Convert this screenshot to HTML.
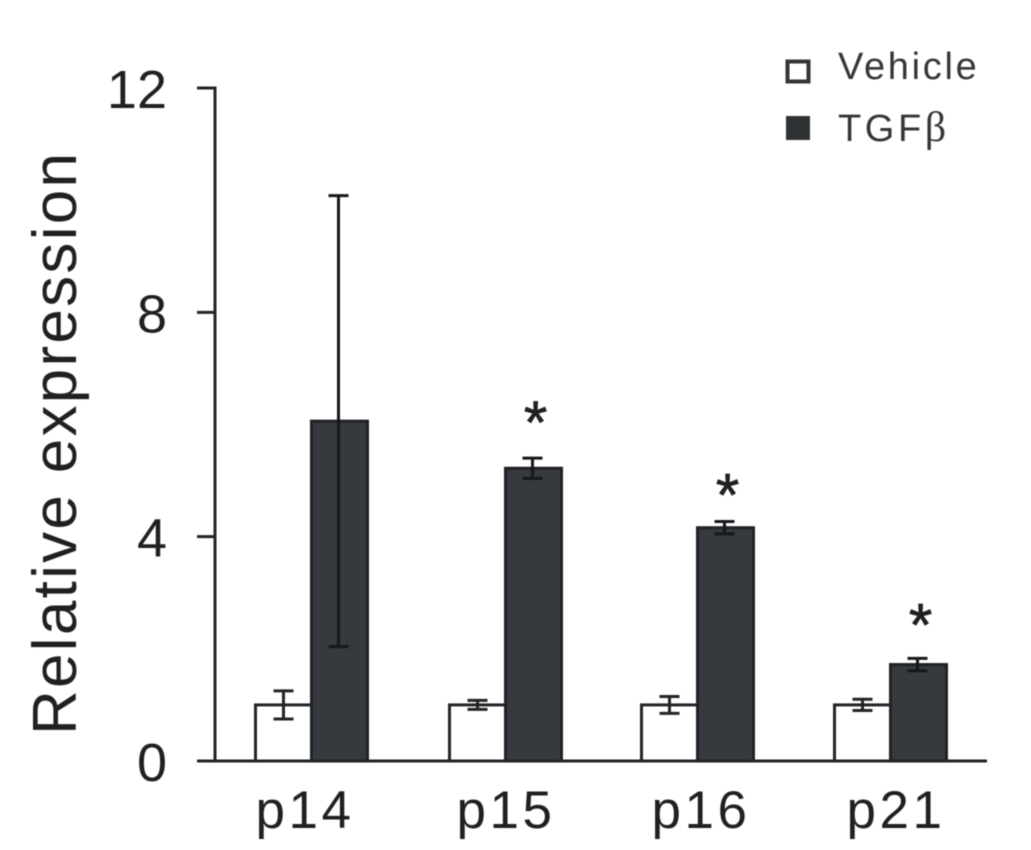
<!DOCTYPE html>
<html lang="en">
<head>
<meta charset="utf-8">
<title>Relative expression chart</title>
<style>
html,body{margin:0;padding:0;background:#fff;width:1031px;height:850px;overflow:hidden}
svg{display:block;font-family:"Liberation Sans",sans-serif;filter:blur(.6px)}
text{fill:#1e2022}
</style>
</head>
<body>
<svg id="chart" width="1031" height="850" viewBox="0 0 1031 850" xmlns="http://www.w3.org/2000/svg">
<text transform="translate(76,735) rotate(-90)" font-size="62" textLength="582" lengthAdjust="spacing">Relative expression</text>
<g id="plot"></g>
<g>
<g>
<rect x="787.5" y="61.5" width="21" height="20" fill="#fff" stroke="#333638" stroke-width="4"/>
<text x="838" y="79" font-size="38" letter-spacing="2.7" style="fill:#34363a">Vehicle</text>
</g>
<g>
<rect x="786" y="116" width="24" height="24" fill="#2f3234"/>
<text x="838" y="141" font-size="38" letter-spacing="3.6" style="fill:#34363a">TGF<tspan font-family="'Liberation Serif',serif" font-size="42">β</tspan></text>
</g>
</g>
</svg>
<script>
const categories = ['p14', 'p15', 'p16', 'p21'];
const vehicleValues = [1.0, 1.0, 1.0, 1.0];
const vehicleErrors = [0.25, 0.08, 0.15, 0.1];
const tgfbValues = [6.06, 5.22, 4.16, 1.72];
const tgfbErrors = [4.02, 0.18, 0.11, 0.11];
const significant = [false, true, true, true];
const yTickValues = [0, 4, 8, 12];

const NS = 'http://www.w3.org/2000/svg';
const plot = document.getElementById('plot');
const yZero = 761, yTop = 88, yMax = 12;
const y = v => yZero - (v / yMax) * (yZero - yTop);
const xCenter = i => 311.5 + i * 193 + (i === 1 ? 1 : 0);
const labelCenter = i => 305 + i * 197 + (i === 1 ? 4 : 0) + (i === 2 ? 2 : 0);
const starGap = i => 40 + (i === 1 ? 4 : 0) + (i === 2 ? -5 : 0) + (i === 3 ? 2 : 0);
const barW = 56;
const INK = '#222426', FILL = '#363a3f';

function add(tag, attrs, parent) {
  const el = document.createElementNS(NS, tag);
  for (const k in attrs) el.setAttribute(k, attrs[k]);
  (parent || plot).appendChild(el);
  return el;
}

function errorBar(cx, value, err, color, parent, capHalf) {
  add('line', {x1: cx, x2: cx, y1: y(value + err), y2: y(value - err), stroke: color, 'stroke-width': 3}, parent);
  add('line', {x1: cx - capHalf, x2: cx + capHalf, y1: y(value + err), y2: y(value + err), stroke: color, 'stroke-width': 3}, parent);
  add('line', {x1: cx - capHalf, x2: cx + capHalf, y1: y(value - err), y2: y(value - err), stroke: color, 'stroke-width': 3}, parent);
}

categories.forEach((cat, i) => {
  const cx = xCenter(i);
  const group = add('g', {});
  
  

  const vBar = add('rect', {x: cx - barW, y: y(vehicleValues[i]), width: barW, height: yZero - y(vehicleValues[i]), fill: '#fff', stroke: INK, 'stroke-width': 3}, group);
  
  

  const tBar = add('rect', {x: cx, y: y(tgfbValues[i]), width: barW, height: yZero - y(tgfbValues[i]), fill: FILL, stroke: '#202225', 'stroke-width': 3}, group);
  
  

  const vErr = add('g', {}, group);
  
  
  errorBar(cx - barW / 2, vehicleValues[i], vehicleErrors[i], INK, vErr, 10);

  const tErr = add('g', {}, group);
  
  
  errorBar(cx + barW / 2 - 1, tgfbValues[i], tgfbErrors[i], '#15171a', tErr, 10);

  if (significant[i]) {
    const star = add('text', {x: cx + barW / 2 + 2, y: y(tgfbValues[i] + tgfbErrors[i]) - starGap(i) + 29, 'font-size': 60, 'text-anchor': 'middle', stroke: '#1e2022', 'stroke-width': 0.8}, group);
    
    
    star.textContent = '*';
  }

  const label = add('text', {x: labelCenter(i), y: 828, 'font-size': 53, 'text-anchor': 'middle', 'letter-spacing': 3.5}, group);
  
  
  label.textContent = cat;
});

const yAxis = add('line', {x1: 215, x2: 215, y1: y(yMax) - 1.5, y2: yZero, stroke: INK, 'stroke-width': 3});



const xAxis = add('line', {x1: 197, x2: 987, y1: yZero, y2: yZero, stroke: INK, 'stroke-width': 3});



yTickValues.forEach(t => {
  const tick = add('line', {x1: 197, x2: 215, y1: y(t), y2: y(t), stroke: INK, 'stroke-width': 3});
  
  
  const lab = add('text', {x: 167, y: y(t) + 20, 'font-size': 54, 'text-anchor': 'end'});
  
  
  lab.textContent = t;
});
</script>
</body>
</html>
